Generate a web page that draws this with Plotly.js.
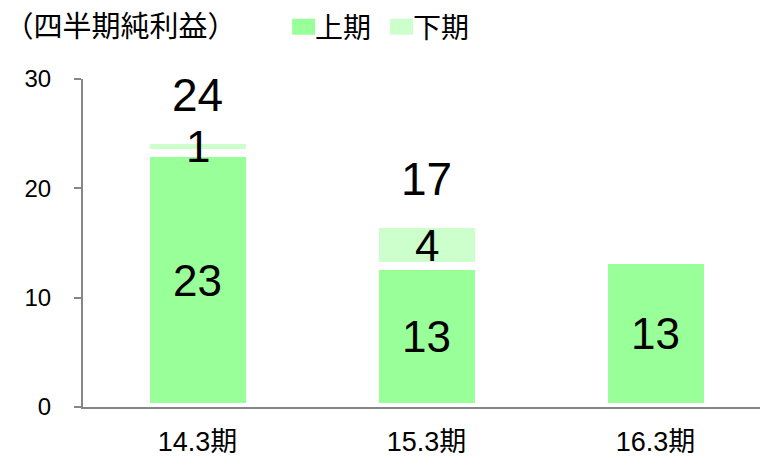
<!DOCTYPE html>
<html>
<head>
<meta charset="utf-8">
<script src="https://cdn.plot.ly/plotly-3.0.1.min.js"></script>
<style>html,body{margin:0;padding:0;background:#fff;}#chart{width:760px;height:458px;}</style>
</head>
<body>
<div id="chart"></div>
<script>
const categories = ['14.3期', '15.3期', '16.3期'];
const firstHalf = [23.2, 12.9, 13.45];
const secondHalf = [1.2, 3.8, null];
const firstLabels = ['23', '13', '13'];
const secondLabels = ['1', '4', ''];
const totalLabels = ['24', '17', ''];
const seriesNames = ['上期', '下期'];
const chartTitle = '（四半期純利益）';
const yTicks = [0, 10, 20, 30];

const FONT = 'Liberation Sans, Arial, Noto Sans CJK JP, sans-serif';
const CJK = 'Noto Sans CJK JP, sans-serif';

const traces = [
  {type: 'bar', name: seriesNames[0], x: categories, y: firstHalf,
   marker: {color: '#99FF99', line: {color: '#FFFFFF', width: 8}}, width: 0.454, hoverinfo: 'none'},
  {type: 'bar', name: seriesNames[1], x: categories, y: secondHalf,
   marker: {color: '#CCFFCC', line: {color: '#FFFFFF', width: 8}}, width: 0.454, hoverinfo: 'none'}
];

const annotations = [];
categories.forEach((c, i) => {
  if (firstLabels[i]) annotations.push({x: c, y: firstHalf[i] / 2, text: firstLabels[i], showarrow: false,
    font: {family: FONT, size: 44, color: '#000'}, yanchor: 'middle'});
  if (secondLabels[i]) annotations.push({x: c, y: firstHalf[i] + secondHalf[i] / 2, text: secondLabels[i], showarrow: false,
    font: {family: FONT, size: 44, color: '#000'}, yanchor: 'middle'});
  if (totalLabels[i]) annotations.push({x: c, y: firstHalf[i] + (secondHalf[i] || 0), text: totalLabels[i], showarrow: false,
    font: {family: FONT, size: 46, color: '#000'}, yanchor: 'middle', yshift: 45});
});

const layout = {
  width: 760, height: 458,
  margin: {l: 83, r: 0, t: 79, b: 51, autoexpand: false},
  paper_bgcolor: '#fff', plot_bgcolor: '#fff',
  barmode: 'stack',
  showlegend: true,
  title: {text: chartTitle, xref: 'container', x: 0.006, xanchor: 'left', yref: 'container', y: 0.941, yanchor: 'middle',
    font: {family: CJK, size: 29, color: '#000'}},
  legend: {orientation: 'h', xref: 'container', x: 0.362, yref: 'container', y: 0.941, xanchor: 'left', yanchor: 'middle',
    traceorder: 'normal', font: {family: CJK, size: 28, color: '#000'}, itemwidth: 30,
    entrywidth: 53, entrywidthmode: 'pixels'},
  xaxis: {type: 'category', range: [-0.5, 2.456], showline: true, linecolor: '#868686', linewidth: 2,
    ticks: '', showgrid: false, zeroline: false, ticklabelstandoff: 10,
    tickfont: {family: FONT, size: 27, color: '#000'}},
  yaxis: {range: [0, 30], tickvals: yTicks, showline: true, linecolor: '#868686', linewidth: 2,
    ticks: 'outside', ticklen: 7, tickcolor: '#868686', tickwidth: 2, showgrid: false, zeroline: false,
    ticklabelstandoff: 18, tickfont: {family: FONT, size: 24, color: '#000'}},
  annotations: annotations
};
Plotly.newPlot('chart', traces, layout, {displayModeBar: false, staticPlot: true}).then(gd => {
  gd.querySelectorAll('.legend .legendpoints path').forEach(p => {
    p.setAttribute('d', 'M-3,8H20V-8H-3Z');
    p.style.strokeWidth = '0px';
  });
});
</script>
</body>
</html>
